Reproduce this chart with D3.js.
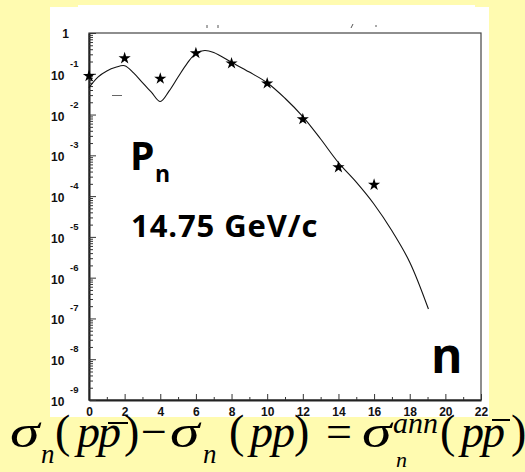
<!DOCTYPE html>
<html>
<head>
<meta charset="utf-8">
<script src="https://cdn.jsdelivr.net/npm/d3@7"></script>
<style>
  html, body { margin: 0; padding: 0; background: #FFFBB0; }
  svg { display: block; }
</style>
</head>
<body>
<svg id="chart" width="525" height="472"></svg>
<script>
// Measured multiplicity probabilities (stars)
const starN = [0, 2, 4, 6, 8, 10, 12, 14, 16];
const starP = [0.088, 0.24, 0.076, 0.32, 0.18, 0.058, 0.0077, 5.1e-4, 1.9e-4];

// Model curve
const curveN = [0, 0.5, 1, 1.5, 2, 2.5, 3, 3.5, 4, 4.5, 5, 5.5, 6, 6.5, 7, 8, 9, 10, 11, 12, 13, 14, 15, 16, 17, 18, 19.05];
const curveP = [0.0457, 0.0832, 0.1175, 0.1445, 0.158, 0.105, 0.0603, 0.0355, 0.0209, 0.038, 0.0832, 0.178, 0.316, 0.372, 0.331,
                0.191, 0.110, 0.0603, 0.0251, 0.00891, 0.00251, 6.6e-4, 2.19e-4, 6.3e-5, 1.41e-5, 2.4e-6, 1.7e-7];

// Axis ticks
const xMajor = [0, 2, 4, 6, 8, 10, 12, 14, 16, 18, 20, 22];
const xMinor = [1, 3, 5, 7, 9, 11, 13, 15, 17, 19, 21];
const yExponents = [0, -1, -2, -3, -4, -5, -6, -7, -8, -9];

const svg = d3.select("#chart");

// Page background and white plot sheet
svg.append("rect").attr("width", 525).attr("height", 472).attr("fill", "#FFFBB0");
svg.append("rect").attr("x", 50).attr("y", 7).attr("width", 439).attr("height", 410).attr("fill", "#ffffff");
svg.append("rect").attr("x", 78).attr("y", 5).attr("width", 397).attr("height", 3).attr("fill", "#ffffff");

const x = d3.scaleLinear().domain([0, 22]).range([89, 481]);
const y = d3.scaleLog().domain([1e-9, 1]).range([400, 33]);

// Frame
svg.append("rect")
  .attr("x", x(0)).attr("y", y(1))
  .attr("width", x(22) - x(0)).attr("height", y(1e-9) - y(1))
  .attr("fill", "none").attr("stroke", "#444").attr("stroke-width", 1.2);

// X axis
const xAxis = svg.append("g").attr("transform", `translate(0,${y(1e-9)})`)
  .call(d3.axisBottom(x).tickValues(xMajor).tickSizeInner(-6).tickSizeOuter(0).tickPadding(7).tickFormat(d3.format("d")));
svg.append("g").attr("transform", `translate(0,${y(1e-9)})`)
  .call(d3.axisBottom(x).tickValues(xMinor).tickSizeInner(-3).tickSizeOuter(0).tickFormat(""))
  .select(".domain").remove();

// Y axis
const yMinorVals = [];
yExponents.slice(1).forEach(e => { for (let k = 2; k <= 9; k++) yMinorVals.push(k * Math.pow(10, e)); });
svg.append("g").attr("transform", `translate(${x(0)},0)`)
  .call(d3.axisLeft(y).tickValues(yExponents.map(e => Math.pow(10, e))).tickSizeInner(-7).tickSizeOuter(0).tickFormat(""));
svg.append("g").attr("transform", `translate(${x(0)},0)`)
  .call(d3.axisLeft(y).tickValues(yMinorVals).tickSizeInner(-4).tickSizeOuter(0).tickFormat(""))
  .select(".domain").remove();

svg.selectAll(".domain").attr("stroke", "#222").attr("stroke-width", 2);
svg.selectAll(".tick line").attr("stroke", "#333").attr("stroke-width", 1);
xAxis.selectAll(".tick text")
  .attr("font-family", "Liberation Sans, Arial, sans-serif")
  .attr("font-weight", "bold").attr("font-size", 12).attr("fill", "#111");

// Y tick labels: 1, 10^-1 ... 10^-9
const yLab = svg.append("g").attr("font-family", "Liberation Sans, Arial, sans-serif")
  .attr("font-weight", "bold").attr("fill", "#111");
yExponents.forEach(e => {
  const yy = y(Math.pow(10, e));
  if (e === 0) {
    yLab.append("text").attr("x", 69).attr("y", yy + 5).attr("text-anchor", "end")
      .attr("font-size", 12).text("1");
  } else {
    yLab.append("text").attr("x", 51).attr("y", yy + 6).attr("font-size", 12).text("10");
    yLab.append("text").attr("x", 70).attr("y", yy - 7).attr("font-size", 9.5).text(String(e));
  }
});

// Model curve
const curveData = curveN.map((n, i) => ({ n, p: curveP[i] }));
svg.append("path").datum(curveData)
  .attr("fill", "none").attr("stroke", "#111").attr("stroke-width", 1.1)
  .attr("d", d3.line().x(d => x(d.n)).y(d => y(d.p)).curve(d3.curveCatmullRom.alpha(0.5)));

// Data stars
const starData = starN.map((n, i) => ({ n, p: starP[i] }));
svg.append("g").selectAll("path").data(starData).join("path")
  .attr("transform", d => `translate(${x(d.n)},${y(d.p)})`)
  .attr("d", d3.symbol(d3.symbolStar, 46))
  .attr("fill", "#000");

// Small stray strokes on the sheet
svg.append("line").attr("x1", 112).attr("x2", 122).attr("y1", 95.5).attr("y2", 95.5)
  .attr("stroke", "#666").attr("stroke-width", 1);
[[207, 25, 207, 28], [218, 25, 218, 28], [351, 28, 353, 24], [376, 25, 376, 27]].forEach(s => {
  svg.append("line").attr("x1", s[0]).attr("y1", s[1]).attr("x2", s[2]).attr("y2", s[3])
    .attr("stroke", "#555").attr("stroke-width", 1);
});

// Annotations
const ann = svg.append("g").attr("font-family", "Open Sans, sans-serif").attr("font-weight", "bold").attr("fill", "#000");
ann.append("text").attr("x", 130).attr("y", 170).attr("font-size", 39).text("P");
ann.append("text").attr("x", 155).attr("y", 182).attr("font-size", 23).text("n");
ann.append("text").attr("x", 131).attr("y", 237).attr("font-size", 31).attr("letter-spacing", 0.9).text("14.75 GeV/c");
ann.append("text").attr("x", 431).attr("y", 373).attr("font-size", 48).text("n");

// Formula: σn(pp̄) − σn(pp) = σn^ann(pp̄)
const f = svg.append("g").attr("font-family", "Liberation Serif, Times New Roman, serif").attr("fill", "#000");
const fs = 46, base = 447;
function glyph(t, gx, gy, size, italic, sx) {
  f.append("text")
    .attr("transform", `translate(${gx},${gy}) scale(${sx || 1},1)`)
    .attr("font-size", size)
    .attr("font-style", italic ? "italic" : "normal").text(t);
}
function bar(x1, x2, yy) {
  f.append("line").attr("x1", x1).attr("x2", x2).attr("y1", yy).attr("y2", yy)
    .attr("stroke", "#000").attr("stroke-width", 2);
}
glyph("σ", 10, base, fs, true, 1.3);
glyph("n", 41, 463, 27, true);
glyph("(", 55, base, fs, false);
glyph("p", 77, base, fs, true);
glyph("p", 98, base, fs, true);
bar(108, 128, 423);
glyph(")", 124, base, fs, false);
glyph("−", 141, base, fs, false);
glyph("σ", 170, base, fs, true, 1.3);
glyph("n", 203, 463, 27, true);
glyph("(", 229, base, fs, false);
glyph("p", 250, base, fs, true);
glyph("p", 272, base, fs, true);
glyph(")", 294, base, fs, false);
glyph("=", 326, base, fs, false);
glyph("σ", 362, base, fs, true, 1.3);
glyph("ann", 393, 433, 30, true);
glyph("n", 396, 467, 22, true);
glyph("(", 440, base, fs, false);
glyph("p", 461, base, fs, true);
glyph("p", 482, base, fs, true);
bar(492, 510, 420);
glyph(")", 511, base, fs, false);
</script>
</body>
</html>
